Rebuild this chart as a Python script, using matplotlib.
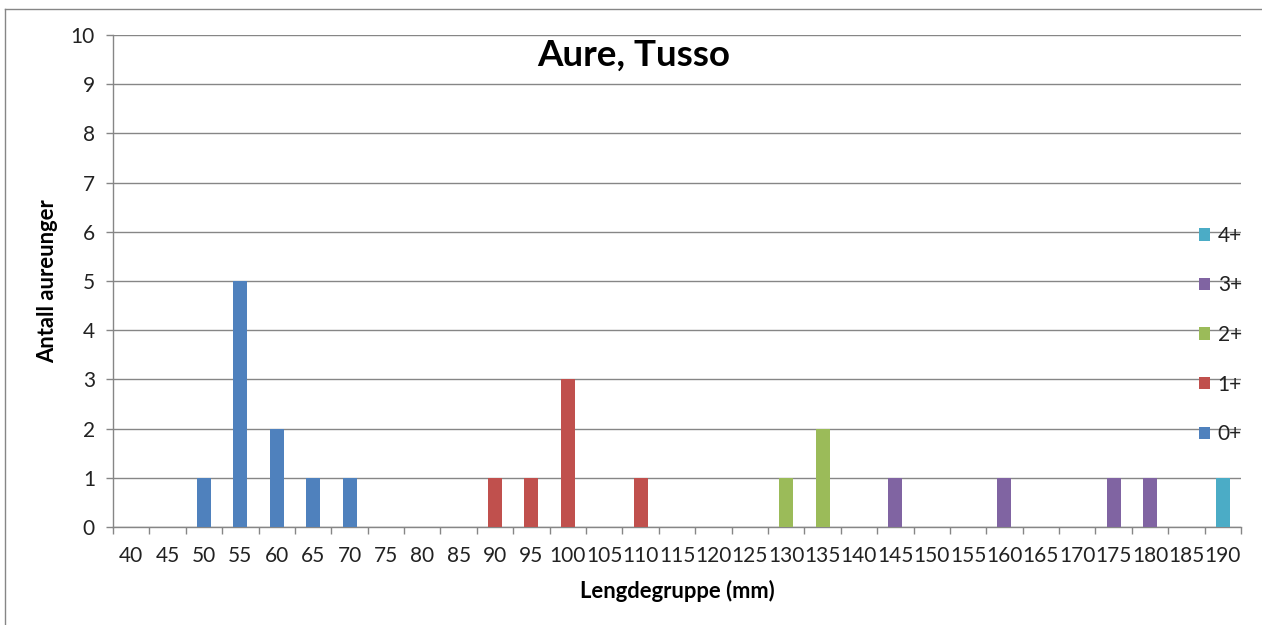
import matplotlib
matplotlib.use("Agg")
import matplotlib.pyplot as plt
import numpy as np
from matplotlib.lines import Line2D

plt.rcParams['font.family'] = ['Lato', 'DejaVu Sans']

categories = [str(v) for v in range(40, 195, 5)]
series_names = ['0+', '1+', '2+', '3+', '4+']
colors = ['#4F81BD', '#C0504D', '#9BBB59', '#8064A2', '#4BACC6']

s0 = {'50': 1, '55': 5, '60': 2, '65': 1, '70': 1}
s1 = {'90': 1, '95': 1, '100': 3, '110': 1}
s2 = {'130': 1, '135': 2}
s3 = {'145': 1, '160': 1, '175': 1, '180': 1}
s4 = {'190': 1}
series = [s0, s1, s2, s3, s4]

title = 'Aure, Tusso'
xlabel = 'Lengdegruppe (mm)'
ylabel = 'Antall aureunger'

W, H = 1262, 625
fig = plt.figure(figsize=(W / 100, H / 100), dpi=100)
ax = fig.add_axes([113 / W, 1 - 527 / H, (1241 - 113) / W, (527 - 35) / H])

x = np.arange(len(categories))
bottom = np.zeros(len(categories))
handles = []
for name, data, col in zip(series_names, series, colors):
    vals = np.array([data.get(c, 0) for c in categories], dtype=float)
    b = ax.bar(x, vals, width=0.385, bottom=bottom, color=col, label=name, zorder=3)
    handles.append(b)
    bottom += vals

grey = '#868686'
ax.set_xlim(-0.5, len(categories) - 0.5)
ax.set_ylim(0, 10)
ax.set_yticks(range(0, 11))
ax.yaxis.grid(True, color=grey, linewidth=1.0, zorder=0)
ax.set_axisbelow(True)
for s in ['top', 'right']:
    ax.spines[s].set_visible(False)
for s in ['left', 'bottom']:
    ax.spines[s].set_color(grey)
    ax.spines[s].set_linewidth(1.0)

ax.set_xticks(x)
ax.set_xticklabels(categories)
ax.set_xticks(np.arange(-0.5, len(categories)), minor=True)
ax.tick_params(axis='x', which='major', length=0, pad=14, labelsize=15, colors='#222222')
ax.tick_params(axis='x', which='minor', length=5, width=1, color=grey, direction='out')
ax.tick_params(axis='y', which='major', length=5, width=1, color=grey, direction='out',
               pad=8, labelsize=15, labelcolor='#222222')

fig.text(634 / W, 1 - 55 / H, title, ha='center', va='center', fontsize=26.5,
         fontweight='bold', color='black')
fig.text(677 / W, 1 - 591 / H, xlabel, ha='center', va='center', fontsize=15.8,
         fontweight='bold', color='black')
fig.text(48 / W, 1 - 281 / H, ylabel, ha='center', va='center', rotation=90,
         fontsize=15.8, fontweight='bold', color='black')

leg = fig.legend(handles[::-1], series_names[::-1], loc='center left',
                 bbox_to_anchor=(1199 / W, 1 - 335 / H), frameon=False,
                 fontsize=15, handlelength=0.55, handleheight=0.55,
                 handletextpad=0.35, labelspacing=1.42, borderpad=0, borderaxespad=0)
for t in leg.get_texts():
    t.set_color('#222222')

# outer chart frame (left and top visible, right/bottom cropped)
fig.add_artist(Line2D([5 / W, 5 / W], [0, 1 - 9 / H], transform=fig.transFigure,
                      color=grey, linewidth=1.0))
fig.add_artist(Line2D([5 / W, 1], [1 - 9 / H, 1 - 9 / H], transform=fig.transFigure,
                      color=grey, linewidth=1.0))

fig.savefig('out.png', dpi=100)
